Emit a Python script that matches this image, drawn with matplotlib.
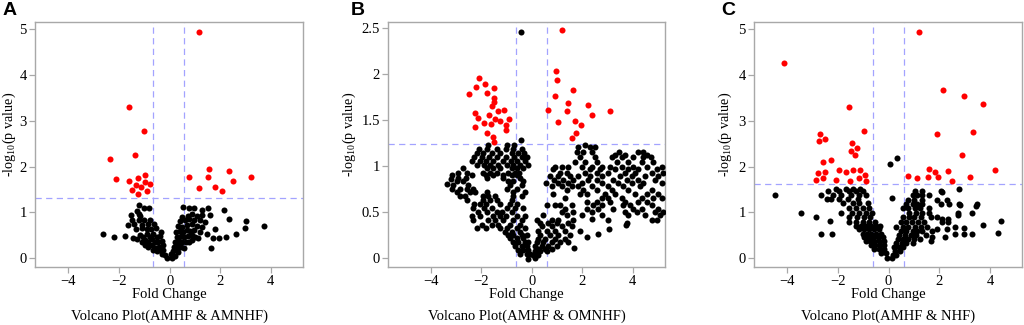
import matplotlib
matplotlib.use("Agg")
import matplotlib.pyplot as plt
import numpy as np
from matplotlib.ticker import FormatStrFormatter

plt.rcParams["font.family"] = "Liberation Serif"
plt.rcParams["mathtext.fontset"] = "custom"
plt.rcParams["mathtext.rm"] = "Liberation Serif"

# ---- panel A: AMHF vs AMNHF ----
a_sig = [(1.17, 4.94), (-1.62, 3.30), (-1.01, 2.78), (-1.38, 2.26), (-2.36, 2.16),
         (-2.13, 1.72), (-1.59, 1.69), (-1.24, 1.76), (-0.99, 1.82), (-1.34, 1.60),
         (-1.50, 1.48), (-1.15, 1.55), (-0.96, 1.67), (-0.79, 1.61), (-0.90, 1.46),
         (-1.25, 1.40), (0.75, 1.78), (1.57, 1.95), (1.53, 1.77), (2.33, 1.90),
         (1.17, 1.53), (1.80, 1.56), (2.50, 1.69), (3.20, 1.77), (2.06, 1.47)]
a_ns = [(-2.62, 0.52), (-2.20, 0.47), (-1.75, 0.49), (-1.46, 0.45),
        (-1.20, 1.17), (-1.03, 1.10), (-0.80, 1.09), (-1.28, 1.04), (-1.22, 0.96),
        (-1.53, 0.94), (-1.16, 0.92), (-1.50, 0.83), (-1.21, 0.83), (-1.00, 0.83),
        (-0.78, 0.83), (-1.63, 0.72), (-1.39, 0.74), (-1.11, 0.72), (-0.84, 0.74),
        (-0.61, 0.74), (-1.34, 0.63), (-1.11, 0.65), (-0.91, 0.64), (-0.74, 0.63),
        (-0.54, 0.65), (-0.34, 0.57), (-1.30, 0.43), (-1.17, 0.51), (-1.04, 0.47),
        (-0.91, 0.52), (-0.78, 0.47), (-0.64, 0.52), (-0.51, 0.47), (-0.38, 0.49),
        (-1.11, 0.36), (-0.97, 0.40), (-0.84, 0.36), (-0.71, 0.41), (-0.58, 0.36),
        (-0.45, 0.36), (-0.32, 0.38), (-0.97, 0.29), (-0.84, 0.25), (-0.68, 0.29),
        (-0.55, 0.23), (-0.42, 0.25), (-0.25, 0.29), (-0.64, 0.18), (-0.51, 0.16),
        (-0.38, 0.18), (-0.25, 0.18), (-0.32, 0.09), (-0.18, 0.07), (-0.12, 0.01),
        (0.11, 0.00), (0.05, 0.09), (0.21, 0.06), (0.14, 0.16), (0.28, 0.18),
        (0.34, 0.13), (0.18, 0.25), (0.32, 0.29), (0.45, 0.25), (0.58, 0.22),
        (0.21, 0.36), (0.37, 0.38), (0.50, 0.36), (0.63, 0.35), (0.76, 0.36),
        (0.87, 0.40), (0.28, 0.47), (0.45, 0.49), (0.58, 0.47), (0.71, 0.49),
        (0.87, 0.51), (1.00, 0.47), (1.13, 0.45), (0.25, 0.58), (0.41, 0.59),
        (0.54, 0.57), (0.67, 0.62), (0.80, 0.59), (0.97, 0.62), (1.20, 0.58),
        (0.32, 0.71), (0.50, 0.69), (0.67, 0.72), (0.87, 0.74), (1.07, 0.71),
        (1.29, 0.69), (0.41, 0.81), (0.61, 0.83), (0.76, 0.86), (0.95, 0.83),
        (1.20, 0.83), (1.39, 0.80), (0.50, 0.91), (0.71, 0.93), (0.87, 0.96),
        (1.07, 0.93), (1.26, 0.94), (0.54, 1.12), (0.76, 1.09), (0.97, 1.09),
        (1.26, 1.05), (1.53, 1.09), (1.59, 0.94), (1.79, 0.64), (1.46, 0.52),
        (2.16, 1.05), (2.33, 0.86), (3.03, 0.81), (2.97, 0.65), (3.74, 0.71),
        (2.63, 0.52), (2.21, 0.47), (1.95, 0.45), (1.62, 0.22), (1.72, 0.45)]

# ---- panel B: AMHF vs OMNHF ----
b_sig = [(-2.49, 1.78), (-2.09, 1.95), (-2.21, 1.85), (-1.86, 1.89), (-1.76, 1.79),
         (-1.50, 1.84), (-1.50, 1.74), (-1.51, 1.69), (-1.58, 1.65), (-2.25, 1.57),
         (-2.11, 1.52), (-2.25, 1.42), (-1.87, 1.46), (-1.70, 1.55), (-1.59, 1.45),
         (-1.46, 1.51), (-1.34, 1.59), (-1.25, 1.49), (-1.09, 1.61), (-0.89, 1.51),
         (-1.00, 1.44), (-1.00, 1.39), (-1.78, 1.35), (-1.54, 1.31), (-1.51, 1.26),
         (1.20, 2.47), (0.95, 2.03), (1.01, 1.93), (0.91, 1.76), (1.63, 1.82),
         (0.64, 1.60), (1.43, 1.68), (1.41, 1.59), (2.21, 1.66), (2.39, 1.55),
         (3.09, 1.59), (1.05, 1.48), (1.70, 1.49), (1.93, 1.44), (1.76, 1.36),
         (1.58, 1.30)]
b_ns = [(-0.41, 2.45), (-0.43, 1.28),
        (-1.71, 1.22), (-0.99, 1.22), (-0.70, 1.22),
        (-2.08, 1.18), (-1.75, 1.18), (-1.36, 1.18), (-1.01, 1.18), (-0.72, 1.18), (-0.40, 1.18),
        (-2.17, 1.14), (-1.91, 1.14), (-1.58, 1.14), (-1.25, 1.14), (-0.79, 1.14), (-0.53, 1.14),
        (-0.30, 1.14),
        (-2.27, 1.09), (-1.98, 1.09), (-1.67, 1.09), (-1.36, 1.09), (-1.01, 1.09), (-0.69, 1.09),
        (-0.40, 1.09), (-0.20, 1.09),
        (-2.37, 1.05), (-2.04, 1.05), (-1.80, 1.05), (-1.52, 1.05), (-1.12, 1.05), (-0.83, 1.05),
        (-0.57, 1.05), (-0.26, 1.05),
        (-2.17, 1.01), (-1.88, 1.01), (-1.65, 1.01), (-1.32, 1.01), (-0.99, 1.01), (-0.72, 1.01),
        (-0.46, 1.01), (-0.13, 1.01),
        (-2.73, 0.97), (-1.78, 0.97), (-1.52, 0.97), (-1.25, 0.97), (-0.79, 0.97), (-0.59, 0.97),
        (-0.36, 0.97),
        (-2.90, 0.92), (-2.54, 0.92), (-1.91, 0.92), (-1.65, 0.92), (-1.38, 0.92), (-0.92, 0.92),
        (-0.66, 0.92), (-0.49, 0.92),
        (-3.16, 0.90), (-2.37, 0.90), (-1.80, 0.90), (-1.52, 0.90), (-1.12, 0.90), (-0.79, 0.90),
        (-0.57, 0.90),
        (-3.20, 0.86), (-2.90, 0.87), (-2.60, 0.87), (-1.78, 0.87), (-1.12, 0.87), (-0.46, 0.87),
        (-2.96, 0.83), (-2.70, 0.83), (-0.92, 0.83), (-0.72, 0.83), (-0.33, 0.83),
        (-3.36, 0.80), (-3.10, 0.79), (-2.50, 0.79), (-0.86, 0.79), (-0.40, 0.79),
        (-3.16, 0.75), (-2.83, 0.75), (-2.54, 0.75), (-2.31, 0.75), (-0.96, 0.75), (-0.59, 0.75),
        (-2.94, 0.71), (-2.44, 0.71), (-2.24, 0.71), (-1.78, 0.71), (-0.72, 0.71), (-0.26, 0.71),
        (-2.83, 0.67), (-2.64, 0.67), (-1.91, 0.67), (-1.71, 0.67), (-1.45, 0.67), (-0.72, 0.67),
        (-0.40, 0.67),
        (-2.57, 0.63), (-1.91, 0.63), (-1.65, 0.63), (-1.38, 0.63), (-0.79, 0.63),
        (-2.28, 0.58), (-2.04, 0.58), (-1.80, 0.58), (-1.25, 0.58), (-0.86, 0.58), (-0.59, 0.58),
        (-2.33, 0.54), (-1.88, 0.54), (-1.58, 0.54), (-0.99, 0.54), (-0.66, 0.54), (-0.33, 0.54),
        (-2.11, 0.50), (-1.78, 0.50), (-1.38, 0.50), (-1.19, 0.50), (-0.79, 0.50),
        (-2.37, 0.45), (-2.04, 0.45), (-1.52, 0.45), (-1.25, 0.45), (-1.01, 0.45), (-0.59, 0.45),
        (-0.26, 0.45),
        (-2.33, 0.41), (-1.71, 0.41), (-1.45, 0.41), (-1.12, 0.41), (-0.72, 0.41), (-0.40, 0.41),
        (-1.98, 0.36), (-1.58, 0.36), (-1.32, 0.36), (-0.86, 0.36), (-0.46, 0.36),
        (-2.17, 0.32), (-1.80, 0.32), (-1.25, 0.32), (-0.96, 0.32), (-0.57, 0.32), (-0.26, 0.32),
        (-1.05, 0.28), (-0.79, 0.28), (-0.46, 0.28),
        (-0.92, 0.25), (-0.72, 0.25), (-0.40, 0.25), (-0.20, 0.25),
        (-0.86, 0.21), (-0.59, 0.21), (-0.33, 0.21),
        (-0.72, 0.17), (-0.53, 0.17), (-0.26, 0.17), (-0.13, 0.17),
        (-0.66, 0.13), (-0.40, 0.13), (-0.20, 0.13),
        (-0.53, 0.08), (-0.33, 0.08), (-0.13, 0.08),
        (-0.46, 0.04), (-0.20, 0.04), (-0.07, 0.04), (-0.13, -0.01),
        (2.11, 1.23),
        (1.84, 1.20), (2.31, 1.20), (2.50, 1.20),
        (1.78, 1.15), (2.04, 1.15), (2.37, 1.15), (3.47, 1.15), (4.22, 1.15), (4.41, 1.15),
        (3.29, 1.12), (3.69, 1.12), (4.55, 1.12),
        (1.91, 1.09), (2.50, 1.09), (3.16, 1.09), (3.56, 1.09), (4.02, 1.09), (4.41, 1.09),
        (4.72, 1.09),
        (1.71, 1.04), (2.11, 1.04), (2.57, 1.04), (3.36, 1.04), (3.82, 1.04), (4.35, 1.04),
        (4.81, 1.04),
        (0.92, 0.99), (1.19, 0.99), (1.42, 0.99), (1.98, 0.99), (2.37, 0.99), (2.77, 0.99),
        (3.10, 0.99), (3.56, 0.99), (4.02, 0.99), (4.55, 0.99), (5.14, 0.99),
        (0.86, 0.96), (2.31, 0.96), (2.70, 0.96), (3.29, 0.96), (3.82, 0.96), (4.22, 0.96),
        (4.94, 0.96),
        (1.12, 0.92), (1.38, 0.92), (2.11, 0.92), (2.57, 0.92), (3.03, 0.92), (3.69, 0.92),
        (4.08, 0.92), (4.74, 0.92), (5.20, 0.92),
        (0.72, 0.89), (1.05, 0.89), (1.52, 0.89), (1.84, 0.89), (2.31, 0.89), (2.77, 0.89),
        (3.49, 0.89), (3.95, 0.89), (4.48, 0.89), (5.01, 0.89),
        (0.90, 0.85), (1.25, 0.85), (1.65, 0.85), (2.24, 0.85), (2.57, 0.85), (3.23, 0.85),
        (3.75, 0.85), (4.22, 0.85), (4.88, 0.85),
        (0.55, 0.81), (1.05, 0.81), (1.45, 0.81), (1.98, 0.81), (2.77, 0.81), (3.43, 0.81),
        (3.95, 0.81), (4.41, 0.81), (5.14, 0.81),
        (0.79, 0.78), (1.19, 0.78), (1.58, 0.78), (1.84, 0.78), (2.37, 0.78), (3.03, 0.78),
        (3.62, 0.78), (4.28, 0.78),
        (1.38, 0.74), (2.04, 0.74), (2.57, 0.74), (3.16, 0.74), (3.82, 0.74), (4.74, 0.74),
        (0.86, 0.69), (1.91, 0.69), (2.17, 0.69), (2.90, 0.69), (3.29, 0.69), (4.08, 0.69),
        (4.55, 0.69), (5.01, 0.69),
        (1.32, 0.65), (2.77, 0.65), (3.03, 0.65), (3.56, 0.65), (4.35, 0.65), (4.81, 0.65),
        (5.14, 0.65),
        (2.17, 0.61), (2.57, 0.61), (3.10, 0.61), (3.69, 0.61), (4.22, 0.61), (4.55, 0.61),
        (0.59, 0.57), (0.92, 0.57), (1.12, 0.57), (1.58, 0.57), (2.44, 0.57), (2.77, 0.57),
        (3.62, 0.57), (3.88, 0.57), (4.74, 0.57),
        (1.32, 0.53), (2.17, 0.53), (2.63, 0.53), (3.23, 0.53), (4.02, 0.53), (4.35, 0.53),
        (5.01, 0.53),
        (1.19, 0.50), (1.65, 0.50), (2.37, 0.50), (3.69, 0.50), (4.15, 0.50), (4.88, 0.50),
        (5.20, 0.50),
        (0.46, 0.46), (1.38, 0.46), (1.98, 0.46), (2.77, 0.46), (3.82, 0.46), (4.48, 0.46),
        (5.08, 0.46),
        (0.20, 0.41), (0.79, 0.41), (1.05, 0.41), (1.65, 0.41), (2.37, 0.42), (3.03, 0.41),
        (4.74, 0.41), (4.94, 0.41),
        (0.33, 0.38), (0.66, 0.38), (0.99, 0.38), (1.45, 0.38), (3.74, 0.36), (3.75, 0.38),
        (0.40, 0.34), (0.79, 0.34), (1.19, 0.34), (1.58, 0.34), (3.04, 0.31),
        (0.26, 0.29), (0.59, 0.29), (0.92, 0.29), (1.32, 0.29), (1.91, 0.29), (2.63, 0.26),
        (0.33, 0.25), (0.72, 0.25), (1.05, 0.25), (1.52, 0.25), (2.20, 0.23),
        (0.26, 0.20), (0.53, 0.20), (0.92, 0.20), (1.32, 0.20),
        (0.20, 0.17), (0.46, 0.17), (0.79, 0.17), (1.12, 0.17), (1.45, 0.17),
        (0.13, 0.13), (0.40, 0.13), (0.66, 0.13), (0.99, 0.13),
        (1.68, 0.11), (0.26, 0.10), (0.53, 0.10), (0.79, 0.10),
        (0.13, 0.07), (0.33, 0.07), (0.59, 0.07),
        (0.07, 0.03), (0.26, 0.03), (0.13, 0.00)]

# ---- panel C: AMHF vs NHF ----
c_sig = [(-4.10, 4.25), (-1.54, 3.30), (-0.97, 2.78), (-2.68, 2.72), (-2.75, 2.55),
         (-2.49, 2.61), (-2.57, 2.10), (-2.28, 2.15), (-1.49, 2.35), (-1.44, 2.51),
         (-1.26, 2.41), (-1.31, 2.26), (-2.78, 1.87), (-2.48, 1.88), (-2.58, 1.75),
         (-2.84, 1.70), (-1.95, 1.93), (-2.08, 1.71), (-1.69, 1.89), (-1.39, 1.93),
         (-1.53, 1.69), (-1.18, 1.76), (-1.12, 1.93), (-0.93, 1.82), (-0.87, 1.69),
         (1.18, 4.94), (2.13, 3.67), (2.97, 3.54), (3.71, 3.36), (1.89, 2.72),
         (3.33, 2.75), (2.87, 2.25), (0.78, 1.79), (1.13, 1.74), (1.58, 1.95),
         (1.53, 1.77), (1.84, 1.89), (1.93, 1.77), (2.32, 1.90), (2.50, 1.69),
         (3.18, 1.77), (4.19, 1.92)]
c_ns = [(0.05, 2.06), (0.34, 2.19),
        (-4.47, 1.37), (-3.46, 0.99), (-2.84, 0.91), (-2.67, 0.52), (-2.24, 0.52), (-2.29, 0.81),
        (-2.08, 1.52), (-1.69, 1.52), (-1.41, 1.52), (-1.12, 1.52),
        (-2.38, 1.47), (-1.95, 1.47), (-1.56, 1.47), (-1.30, 1.47), (-1.02, 1.47),
        (-2.64, 1.39), (-2.19, 1.39), (-1.86, 1.39), (-1.47, 1.39), (-1.15, 1.39), (-0.89, 1.39),
        (-2.42, 1.29), (-2.25, 1.29), (-1.95, 1.29), (-1.58, 1.29), (-1.21, 1.29),
        (-1.80, 1.20), (-1.41, 1.20), (-1.15, 1.20), (-0.82, 1.20),
        (-1.54, 1.09), (-1.28, 1.09), (-1.02, 1.09), (-0.76, 1.09),
        (-1.86, 0.99), (-1.43, 0.99), (-1.15, 0.99), (-0.89, 0.99), (-0.65, 0.99),
        (-1.56, 0.89), (-1.25, 0.89), (-0.95, 0.89), (-0.73, 0.89),
        (-1.54, 0.80), (-1.30, 0.80), (-1.02, 0.80), (-0.76, 0.80), (-0.52, 0.80),
        (-1.28, 0.71), (-1.08, 0.71), (-0.89, 0.71), (-0.69, 0.71), (-0.49, 0.71), (-0.34, 0.71),
        (-1.15, 0.63), (-0.95, 0.63), (-0.76, 0.63), (-0.56, 0.63), (-0.39, 0.63),
        (-1.02, 0.54), (-0.86, 0.54), (-0.69, 0.54), (-0.49, 0.54), (-0.30, 0.54),
        (-0.95, 0.46), (-0.78, 0.46), (-0.60, 0.46), (-0.43, 0.46), (-0.23, 0.46),
        (-0.89, 0.38), (-0.73, 0.38), (-0.56, 0.38), (-0.36, 0.38), (-0.20, 0.38),
        (-0.69, 0.29), (-0.52, 0.29), (-0.34, 0.29), (-0.17, 0.29),
        (-0.56, 0.20), (-0.36, 0.20), (-0.17, 0.20),
        (-0.30, 0.11), (-0.10, 0.11), (-0.08, 0.01), (0.13, 0.01),
        (0.13, 1.31), (0.16, 0.07), (0.29, 0.07), (0.26, 0.16), (0.44, 0.16),
        (0.22, 0.25), (0.39, 0.25), (0.57, 0.25),
        (0.31, 0.34), (0.52, 0.34), (0.70, 0.34), (0.94, 0.34),
        (0.35, 0.42), (0.57, 0.42), (0.78, 0.42), (1.00, 0.42), (1.22, 0.42),
        (0.42, 0.51), (0.65, 0.51), (0.87, 0.51), (1.07, 0.51), (1.46, 0.51),
        (0.48, 0.60), (0.70, 0.60), (0.94, 0.60), (1.13, 0.60), (1.33, 0.60), (1.69, 0.60),
        (0.29, 0.69), (0.55, 0.69), (0.78, 0.69), (1.04, 0.69), (1.26, 0.69), (1.52, 0.69),
        (0.48, 0.80), (0.70, 0.80), (0.91, 0.80), (1.17, 0.80), (1.39, 0.80), (2.11, 0.80),
        (2.34, 0.80),
        (0.57, 0.89), (0.81, 0.89), (1.00, 0.89), (1.26, 0.89), (1.65, 0.89), (1.91, 0.89),
        (0.81, 0.98), (1.07, 0.98), (1.33, 0.98), (1.59, 0.98), (2.73, 0.98), (3.26, 0.98),
        (0.57, 1.09), (0.78, 1.09), (1.04, 1.09), (1.22, 1.09), (1.59, 1.09),
        (0.68, 1.18), (0.94, 1.18), (1.13, 1.18), (1.33, 1.18), (2.04, 1.18), (2.37, 1.18),
        (2.76, 1.18), (3.48, 1.18),
        (0.78, 1.27), (1.00, 1.27), (1.30, 1.27), (1.91, 1.27), (2.30, 1.27),
        (0.94, 1.38), (1.13, 1.38), (1.33, 1.38), (1.59, 1.38), (2.11, 1.45),
        (1.04, 1.47), (1.33, 1.47), (2.04, 1.47), (2.75, 1.51),
        (2.09, 0.85), (1.91, 0.63), (2.33, 0.85), (2.30, 0.63), (2.20, 0.47), (2.61, 0.68),
        (2.61, 0.52), (2.72, 0.94), (2.97, 0.52), (2.97, 0.65), (3.27, 0.52), (3.44, 1.15),
        (3.70, 0.72), (4.28, 0.56), (4.42, 0.81), (1.71, 0.46), (1.65, 0.37), (2.79, 1.17)]

# axes boxes (figure fraction), limits and cut-offs per panel
panels = [
    dict(sig=a_sig, ns=a_ns, box=[0.0342, 0.1785, 0.2617, 0.7535], xlim=(-5.32, 5.27),
         ylim=(-0.19, 5.15), yticks=[0, 1, 2, 3, 4, 5], vcut=(-0.64, 0.56), hcut=1.31,
         letter="A", letter_x=0.002, ylab_x=-0.062, title="Volcano Plot(AMHF & AMNHF)"),
    dict(sig=b_sig, ns=b_ns, box=[0.3792, 0.1785, 0.2702, 0.7535], xlim=(-5.67, 5.27),
         ylim=(-0.10, 2.56), yticks=[0, 0.5, 1, 1.5, 2, 2.5], vcut=(-0.62, 0.59), hcut=1.24,
         letter="B", letter_x=0.343, ylab_x=-0.11, title="Volcano Plot(AMHF & OMNHF)"),
    dict(sig=c_sig, ns=c_ns, box=[0.7363, 0.1785, 0.2617, 0.7535], xlim=(-5.29, 5.24),
         ylim=(-0.19, 5.15), yticks=[0, 1, 2, 3, 4, 5], vcut=(-0.60, 0.59), hcut=1.63,
         letter="C", letter_x=0.704, ylab_x=-0.075, title="Volcano Plot(AMHF & NHF)"),
]

fig = plt.figure(figsize=(10.24, 3.25), dpi=100)
for p in panels:
    ax = fig.add_axes(p["box"])
    ns = np.array(p["ns"])
    sig = np.array(p["sig"])
    ax.scatter(ns[:, 0], ns[:, 1], s=19, c="black", linewidths=0, zorder=3)
    ax.scatter(sig[:, 0], sig[:, 1], s=19, c="#ff0000", linewidths=0, zorder=3)
    dash = dict(color="#a3a3ff", ls=(0, (5, 3.5)), lw=0.9, zorder=2)
    for v in p["vcut"]:
        ax.axvline(v, **dash)
    ax.axhline(p["hcut"], **dash)
    ax.set_xlim(*p["xlim"])
    ax.set_ylim(*p["ylim"])
    ax.set_xticks([-4, -2, 0, 2, 4])
    ax.set_yticks(p["yticks"])
    ax.yaxis.set_major_formatter(FormatStrFormatter("%g"))
    for s in ax.spines.values():
        s.set_color("#a8a8a8")
        s.set_linewidth(1.0)
    ax.tick_params(direction="out", length=4, width=0.9, color="#a8a8a8",
                   labelsize=10.5, labelcolor="black", pad=2)
    ax.set_xlabel("Fold Change", fontsize=10.5)
    ax.xaxis.set_label_coords(0.5, -0.085)
    ax.set_ylabel(r"-log$_{\mathrm{10}}$(p value)", fontsize=10.2)
    ax.yaxis.set_label_coords(p["ylab_x"], 0.54)
    ax.text(0.5, -0.2, p["title"], transform=ax.transAxes, ha="center", va="center",
            fontsize=10.5)
    fig.text(p["letter_x"], 0.995, p["letter"], ha="left", va="top", fontsize=14,
             fontweight="bold", family="Liberation Sans")

fig.savefig("out.png", dpi=100)
